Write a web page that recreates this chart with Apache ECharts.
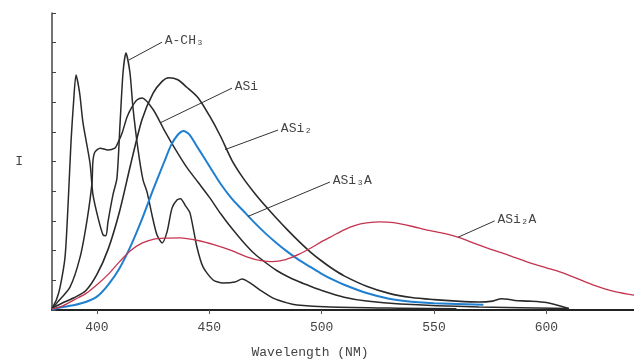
<!DOCTYPE html>
<html>
<head>
<meta charset="utf-8">
<script src="https://cdn.jsdelivr.net/npm/echarts@6/dist/echarts.min.js"></script>
<style>
  html, body { margin: 0; padding: 0; background: #fff; }
  #main { width: 634px; height: 359px; }
</style>
</head>
<body>
<div id="main"></div>
<script>
// wavelength (nm) / intensity pairs
var achWl = [380, 382, 383.6, 385.8, 387.1, 388.5, 389.6, 390.7, 392.3, 393.8, 396.9, 398.2, 400.5, 402.7, 404, 404.9, 407.1, 408.9, 410.3, 411.6, 412.9, 414.7, 416, 418.3, 420.5, 422.3, 424.5, 426.7, 429, 431.2, 433.4, 435.6, 437.2, 439.5, 441.4, 444.5, 447.2, 451.7, 456.1, 461.4, 464.6, 468.1, 472.6, 478.4, 484.6, 489, 503.7, 535, 560];
var achI  = [0.05, 0.35, 0.77, 1.78, 3.47, 5.72, 7.0, 7.91, 7.3, 6.3, 4.95, 3.9, 3.1, 2.53, 2.5, 2.96, 3.87, 4.44, 6.3, 7.98, 8.65, 7.98, 6.84, 5.39, 4.38, 3.97, 3.2, 2.53, 2.26, 2.63, 3.43, 3.7, 3.75, 3.5, 3.27, 2.12, 1.45, 1.01, 0.91, 0.94, 1.04, 0.91, 0.67, 0.4, 0.24, 0.17, 0.1, 0.06, 0.04];

var asiWl = [380, 382.2, 388, 392.5, 395.6, 397.8, 398.2, 399.1, 401.4, 404.9, 408, 408.9, 411.2, 413.4, 415.6, 417.8, 420.1, 425, 430, 435, 440, 445, 450, 455, 460, 465, 470, 475, 480, 485, 490, 495, 500, 510, 520, 535, 570, 610];
var asiI  = [0.05, 0.24, 0.77, 1.78, 3.03, 4.28, 5.0, 5.32, 5.45, 5.39, 5.45, 5.56, 5.96, 6.5, 6.84, 7.07, 7.14, 6.75, 6.05, 5.4, 4.8, 4.3, 3.8, 3.25, 2.75, 2.3, 1.9, 1.6, 1.33, 1.12, 0.95, 0.8, 0.66, 0.43, 0.3, 0.2, 0.1, 0.05];

var asi2Wl = [380, 385, 390, 395, 400, 405, 410, 415, 420, 425, 429, 432, 436, 440, 445, 450, 455, 460, 465, 470, 475, 480, 485, 490, 495, 500, 505, 510, 520, 530, 540, 550, 560, 570, 576, 580, 583, 586, 592, 600, 610];
var asi2I  = [0.05, 0.25, 0.42, 0.65, 1.2, 2.05, 3.3, 4.9, 6.4, 7.3, 7.7, 7.82, 7.75, 7.5, 7.15, 6.55, 5.85, 5.05, 4.45, 3.95, 3.5, 3.08, 2.68, 2.3, 1.95, 1.65, 1.38, 1.15, 0.8, 0.56, 0.42, 0.35, 0.3, 0.27, 0.3, 0.38, 0.36, 0.32, 0.3, 0.25, 0.05];

var asi3aWl = [380, 385, 390, 395, 400, 405, 410, 415, 420, 425, 430, 433, 436, 438.5, 441, 445, 450, 455, 460, 465, 470, 475, 480, 485, 490, 495, 500, 505, 510, 520, 530, 540, 550, 572];
var asi3aI  = [0.02, 0.1, 0.17, 0.27, 0.45, 0.85, 1.4, 2.15, 3.05, 4.05, 5.0, 5.55, 5.9, 6.03, 5.92, 5.45, 4.85, 4.25, 3.75, 3.35, 2.95, 2.58, 2.25, 1.95, 1.68, 1.45, 1.22, 1.02, 0.85, 0.57, 0.38, 0.28, 0.23, 0.18];

var asi2aWl = [380, 385, 390, 395, 400, 405, 410, 415, 420, 425, 430, 437, 445, 452, 460, 467, 473, 478, 484, 490, 495, 500, 505, 510, 515, 520, 526, 532, 540, 547, 555, 562, 568, 575, 583, 591, 600, 606, 613, 621, 631, 639];
var asi2aI  = [0.03, 0.15, 0.35, 0.55, 0.85, 1.2, 1.62, 2.0, 2.25, 2.38, 2.42, 2.43, 2.34, 2.2, 2.0, 1.78, 1.66, 1.63, 1.7, 1.88, 2.08, 2.3, 2.5, 2.7, 2.85, 2.93, 2.97, 2.94, 2.82, 2.69, 2.57, 2.42, 2.24, 2.05, 1.85, 1.63, 1.42, 1.28, 1.08, 0.84, 0.61, 0.5];

var xTicks = [400, 450, 500, 550, 600];

// pointer labels: [text, curve x, curve y, label x, label y]
var achNote   = ['A-CH₃', 414.3, 8.42, 429.0, 9.02];
var asiNote   = ['ASi', 428.1, 6.30, 460.1, 7.47];
var asi2Note  = ['ASi₂', 457.0, 5.4, 480.6, 6.06];
var asi3aNote = ['ASi₃A', 467.2, 3.15, 503.7, 4.31];
var asi2aNote = ['ASi₂A', 560.7, 2.45, 577.0, 3.00];

var font = 'Liberation Mono';

function pairs(xs, ys) {
    var out = [];
    for (var i = 0; i < xs.length; i++) out.push([xs[i], ys[i]]);
    return out;
}

function pointer(note) {
    return {
        silent: true,
        symbol: 'none',
        animation: false,
        lineStyle: { color: '#333', width: 1, type: 'solid' },
        label: {
            show: true,
            position: 'end',
            distance: 3,
            formatter: note[0],
            color: '#444',
            fontFamily: font,
            fontSize: 13
        },
        data: [[{ coord: [note[1], note[2]] }, { coord: [note[3], note[4]] }]]
    };
}

function curve(name, xs, ys, color, width, note) {
    return {
        name: name,
        type: 'line',
        data: pairs(xs, ys),
        showSymbol: false,
        smooth: 0.25,
        lineStyle: { color: color, width: width },
        markLine: pointer(note),
        z: 2
    };
}

var chart = echarts.init(document.getElementById('main'));
chart.setOption({
    backgroundColor: '#fff',
    animation: false,
    grid: { left: 52, right: 0, top: 13, bottom: 49, containLabel: false, outerBoundsMode: 'none' },
    xAxis: {
        type: 'value',
        min: 380,
        max: 639,
        name: 'Wavelength (NM)',
        nameLocation: 'middle',
        nameGap: 36,
        nameTextStyle: { color: '#444', fontFamily: font, fontSize: 13, padding: [0, 66, 0, 0] },
        axisLine: { lineStyle: { color: '#222', width: 2 } },
        axisTick: { show: true, length: 4, customValues: xTicks, lineStyle: { color: '#555' } },
        axisLabel: { customValues: xTicks, color: '#444', fontFamily: font, fontSize: 13, margin: 11 },
        splitLine: { show: false }
    },
    yAxis: {
        type: 'value',
        min: 0,
        max: 10,
        interval: 1,
        name: 'I',
        nameLocation: 'middle',
        nameRotate: 0,
        nameGap: 29,
        nameTextStyle: { color: '#444', fontFamily: font, fontSize: 13 },
        axisLine: { show: true, lineStyle: { color: '#444', width: 1.5 } },
        axisTick: {
            show: true,
            inside: true,
            length: 4,
            lineStyle: { color: '#444' },
            interval: function (index, value) { return value > 0 && value < 10; }
        },
        axisLabel: { show: false },
        splitLine: { show: false }
    },
    series: [
        curve('A-CH3', achWl, achI, '#2a2a2a', 1.5, achNote),
        curve('ASi', asiWl, asiI, '#2a2a2a', 1.5, asiNote),
        curve('ASi2', asi2Wl, asi2I, '#2a2a2a', 1.6, asi2Note),
        curve('ASi3A', asi3aWl, asi3aI, '#1f7fd0', 2, asi3aNote),
        curve('ASi2A', asi2aWl, asi2aI, '#c4344e', 1.3, asi2aNote)
    ]
});
</script>
</body>
</html>
